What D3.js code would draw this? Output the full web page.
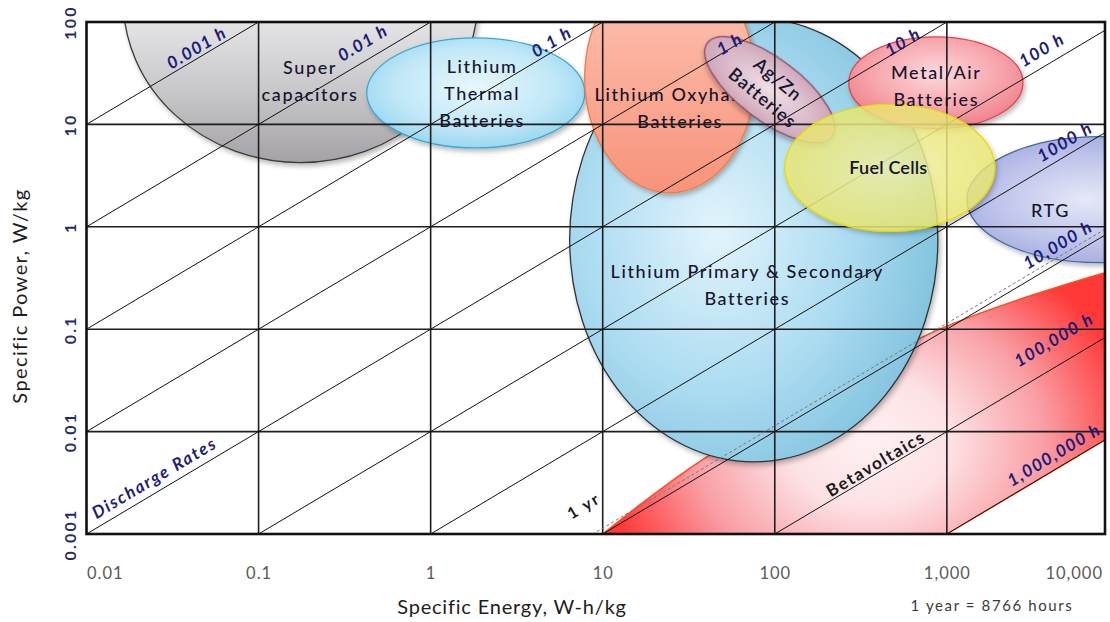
<!DOCTYPE html>
<html>
<head>
<meta charset="utf-8">
<script src="https://cdn.jsdelivr.net/npm/d3@7"></script>
<style>
  body { margin: 0; background: #fff; }
  text { font-family: Lato, "Open Sans", sans-serif; }
</style>
</head>
<body>
<svg id="chart" width="1110" height="622"></svg>
<script>
// ---- axes ----
const energyExtent = [0.01, 8300];          // W-h/kg shown on the frame
const powerExtent = [0.001, 100];           // W/kg
const energyTicks = [0.01, 0.1, 1, 10, 100, 1000];
const energyTickLabels = ["0.01", "0.1", "1", "10", "100", "1,000"];
const energyEndLabel = "10,000";
const powerTicks = [0.001, 0.01, 0.1, 1, 10, 100];
const powerTickLabels = ["0.001", "0.01", "0.1", "1", "10", "100"];

// ---- constant discharge-time lines (hours) ----
const dischargeHours = [0.001, 0.01, 0.1, 1, 10, 100, 1000, 10000, 100000, 1000000];
const dischargeLabels = ["0.001 h", "0.01 h", "0.1 h", "1 h", "10 h", "100 h", "1000 h", "10,000 h", "100,000 h", "1,000,000 h"];
const dischargeLabelE = [0.0436, 0.403, 5.05, 54.7, 555, 3565, 4853, 4418, 4188, 4188];
const dischargeLabelP = [56, 62.6, 64.1, 61.2, 64.1, 53.5, 6.76, 0.667, 0.0788, 0.00593];
const oneYearHours = 8766;

// ---- technology regions: centre, half-extent in decades, tilt ----
const techNames   = ["Supercapacitors", "Lithium Thermal", "Lithium Primary & Secondary", "Lithium Oxyhalide", "Ag/Zn", "Metal/Air", "RTG", "Fuel Cells"];
const techEnergy  = [0.175, 1.83, 75.5, 24.5, 93.5, 863, 7760, 466];
const techPower   = [165, 20.3, 0.746, 28.5, 21.8, 25.5, 1.84, 3.77];
const techSpanE   = [1.03, 0.634, 1.07, 0.494, 0.453, 0.506, 0.773, 0.61];
const techSpanP   = [1.59, 0.537, 2.168, 1.123, 0.303, 0.449, 0.615, 0.62];
const techTilt    = [0, 0, 0, 0, 37, 0, 0, 0];
const techLabelLines = [
  ["Super", "capacitors"],
  ["Lithium", "Thermal", "Batteries"],
  ["Lithium  Primary & Secondary", "Batteries"],
  ["Lithium Oxyhalide", "Batteries"],
  ["Ag/Zn", "Batteries"],
  ["Metal/Air", "Batteries"],
  ["RTG"],
  ["Fuel Cells"]
];
const techLabelE = [0.199, 1.99, 69.2, 28.2, 94.2, 868, 4000, 457];
const techLabelP = [26.7, 19.9, 0.271, 14.4, 22.3, 23.8, 1.43, 3.77];

// Betavoltaics band: upper boundary, bounded below by the 1,000,000 h line
const betaEnergy = [10, 40.3, 910, 8300];
const betaPower  = [0.001, 0.00567, 0.1, 0.356];
const betaLabelE = 386, betaLabelP = 0.00485;

// ---- drawing ----
const W = 1110, H = 622;
const svg = d3.select("#chart");
const x = d3.scaleLog().domain(energyExtent).range([86.5, 1105]);
const y = d3.scaleLog().domain(powerExtent).range([534, 22]);
const [x0, x1] = x.range();
const [y0, y1] = y.range();
const decX = x(10) - x(1);
const decY = y(1) - y(10);
const slopeDeg = Math.atan2(decY, decX) * 180 / Math.PI;

svg.append("rect").attr("width", W).attr("height", H).attr("fill", "#fff");

const defs = svg.append("defs");
defs.append("clipPath").attr("id", "plotClip")
  .append("rect").attr("x", x0).attr("y", y1).attr("width", x1 - x0).attr("height", y0 - y1);

const sh = defs.append("filter").attr("id", "shadow")
  .attr("x", "-20%").attr("y", "-20%").attr("width", "140%").attr("height", "140%");
sh.append("feDropShadow").attr("dx", 2).attr("dy", 3).attr("stdDeviation", 2.5)
  .attr("flood-color", "#000").attr("flood-opacity", 0.28);

function radial(id, stops, cx = "45%", cy = "45%", r = "60%") {
  const g = defs.append("radialGradient").attr("id", id).attr("cx", cx).attr("cy", cy).attr("r", r);
  stops.forEach(([o, c]) => g.append("stop").attr("offset", o).attr("stop-color", c));
}
// supercapacitor shading runs over the visible part of the ellipse only
const supBottom = y(techPower[0]) + techSpanP[0] * decY;
const gs = defs.append("linearGradient").attr("id", "gSuper").attr("gradientUnits", "userSpaceOnUse")
  .attr("x1", 0).attr("x2", 0).attr("y1", y1).attr("y2", supBottom);
[[0, "#e4e3e5"], [0.5, "#c7c6c9"], [1, "#a4a2a6"]]
  .forEach(([o, c]) => gs.append("stop").attr("offset", o).attr("stop-color", c));
const go = defs.append("linearGradient").attr("id", "gOxy").attr("x1", 0).attr("y1", 0).attr("x2", 0).attr("y2", 1);
[[0, "#fdc6b7"], [1, "#f8937a"]].forEach(([o, c]) => go.append("stop").attr("offset", o).attr("stop-color", c));

radial("gThermal", [[0, "#e8f7fd"], [0.6, "#c2e8f8"], [1, "#91d3f0"]], "50%", "45%", "60%");
radial("gLiPrim", [[0, "#e2f4fc"], [0.55, "#acdcf1"], [1, "#7cbfdc"]], "40%", "48%", "65%");
radial("gAgZn", [[0, "#f0dfe7"], [1, "#c89bb0"]], "50%", "50%", "60%");
radial("gMetal", [[0, "#fdd9dc"], [0.6, "#f7a7ae"], [1, "#f0808a"]], "50%", "40%", "60%");
radial("gRTG", [[0, "#e6e8f8"], [0.6, "#bcc2ea"], [1, "#9ba3db"]], "45%", "50%", "60%");
radial("gFuel", [[0, "#f7f5ac"], [1, "#ebe866"]], "50%", "50%", "60%");

const techStyle = [
  { fill: "url(#gSuper)",   stroke: "#3a3a3a" },
  { fill: "url(#gThermal)", stroke: "#3aa8cf" },
  { fill: "url(#gLiPrim)",  stroke: "#2e3338" },
  { fill: "url(#gOxy)",     stroke: "#ee7a45" },
  { fill: "url(#gAgZn)",    stroke: "#8a4565" },
  { fill: "url(#gMetal)",   stroke: "#e2414f" },
  { fill: "url(#gRTG)",     stroke: "#3c66a8" },
  { fill: "url(#gFuel)",    stroke: "#e6dc00", opacity: 0.8 }
];

// Betavoltaic gradient: saturated at the ends, pale in the middle
const bcx = x(350), bcy = y(0.008);
const bg = defs.append("radialGradient").attr("id", "gBeta").attr("gradientUnits", "userSpaceOnUse")
  .attr("cx", bcx).attr("cy", bcy).attr("r", 270)
  .attr("gradientTransform", `translate(${bcx},${bcy}) scale(1,0.8) translate(${-bcx},${-bcy})`);
[[0, "#fff0f2"], [0.3, "#fde2e5"], [0.65, "#f99fa5"], [1, "#ff3838"]]
  .forEach(([o, c]) => bg.append("stop").attr("offset", o).attr("stop-color", c));

const plotG = svg.append("g").attr("clip-path", "url(#plotClip)");

function drawRegion(i, parent) {
  const s = techStyle[i];
  const cx = x(techEnergy[i]), cy = y(techPower[i]);
  parent.append("ellipse")
    .attr("cx", cx).attr("cy", cy)
    .attr("rx", techSpanE[i] * decX).attr("ry", techSpanP[i] * decY)
    .attr("transform", `rotate(${techTilt[i]},${cx},${cy})`)
    .attr("fill", s.fill).attr("fill-opacity", s.opacity || 1)
    .attr("stroke", s.stroke).attr("stroke-width", 1.3)
    .attr("filter", "url(#shadow)");
}
const lineH = 27;
function drawLabel(i, parent, opts = {}) {
  const cx = x(techLabelE[i]), cy = y(techLabelP[i]);
  const lines = techLabelLines[i];
  const gap = opts.gap || lineH;
  const t = parent.append("text")
    .attr("transform", `translate(${cx},${cy}) rotate(${techTilt[i] ? 40 : 0})`)
    .attr("text-anchor", "middle")
    .attr("font-size", opts.size || 18)
    .attr("font-weight", opts.weight || 500)
    .attr("letter-spacing", opts.ls !== undefined ? opts.ls : 1.6)
    .attr("fill", "#15152e");
  lines.forEach((ln, k) => {
    t.append("tspan").attr("x", 0)
      .attr("y", (k - (lines.length - 1) / 2) * gap)
      .attr("dy", "0.35em").text(ln);
  });
}

// regions beneath the grid
drawRegion(0, plotG);
drawRegion(1, plotG);

const betaTop = d3.line().x(d => x(d[0])).y(d => y(d[1])).curve(d3.curveCatmullRom.alpha(0.5));
const betaPts = betaEnergy.map((e, i) => [e, betaPower[i]]);
const eMax = energyExtent[1];
const betaPath = betaTop(betaPts) +
  `L${x(eMax)},${y(eMax / 1e6)}L${x(1000)},${y(0.001)}Z`;
plotG.append("path").attr("d", betaPath).attr("fill", "url(#gBeta)")
  .attr("stroke", "none");
plotG.append("path").attr("d", betaTop(betaPts)).attr("fill", "none")
  .attr("stroke", "#ff4a1a").attr("stroke-width", 1.4);
plotG.append("path").attr("d", `M${x(1000)},${y(0.001)}L${x(eMax)},${y(eMax / 1e6)}`)
  .attr("fill", "none").attr("stroke", "#ff4a1a").attr("stroke-width", 1.4);

drawRegion(2, plotG);
drawRegion(3, plotG);
drawLabel(3, plotG);
drawRegion(4, plotG);
drawRegion(5, plotG);
drawRegion(6, plotG);

// grid
const gridG = plotG.append("g");
gridG.selectAll("line.v").data(energyTicks.slice(1)).join("line")
  .attr("x1", d => x(d)).attr("x2", d => x(d)).attr("y1", y1).attr("y2", y0)
  .attr("stroke", "#1e1e1e").attr("stroke-width", 1.6);
gridG.selectAll("line.h").data(powerTicks.slice(1)).join("line")
  .attr("x1", x0).attr("x2", x1).attr("y1", d => y(d)).attr("y2", d => y(d))
  .attr("stroke", "#1e1e1e").attr("stroke-width", 1.6);

// discharge-time diagonals: P = E / t
const eLo = energyExtent[0], eHi = energyExtent[1];
gridG.selectAll("line.d").data(dischargeHours).join("line")
  .attr("x1", x(eLo)).attr("y1", t => y(eLo / t))
  .attr("x2", x(eHi)).attr("y2", t => y(eHi / t))
  .attr("stroke", "#111").attr("stroke-width", 1);
gridG.append("line")
  .attr("x1", x(eLo)).attr("y1", y(eLo / oneYearHours))
  .attr("x2", x(eHi)).attr("y2", y(eHi / oneYearHours))
  .attr("stroke", "#777").attr("stroke-width", 1).attr("stroke-dasharray", "3,2.5");

// translucent fuel-cell region over the grid
drawRegion(7, plotG);

// region labels
[0, 1, 2, 4, 5, 6, 7].forEach(i => {
  if (i === 4) drawLabel(i, svg, { gap: 24, weight: 600, ls: 1.2 });
  else if (i === 7) drawLabel(i, svg, { ls: 0.2, weight: 600 });
  else drawLabel(i, svg);
});

// frame
svg.append("rect").attr("x", x0).attr("y", y1).attr("width", x1 - x0).attr("height", y0 - y1)
  .attr("fill", "none").attr("stroke", "#111").attr("stroke-width", 2.6);

// diagonal labels
svg.selectAll("text.dl").data(dischargeLabels).join("text")
  .attr("transform", (d, i) => `translate(${x(dischargeLabelE[i])},${y(dischargeLabelP[i])}) rotate(${-slopeDeg})`)
  .attr("text-anchor", "middle").attr("dy", "0.35em")
  .attr("font-size", 17).attr("font-weight", 700).attr("font-style", "italic")
  .attr("letter-spacing", 1.4)
  .attr("fill", "#1c1c78").text(d => d);

svg.append("text")
  .attr("transform", `translate(${x(0.0248)},${y(0.00354)}) rotate(${-slopeDeg})`)
  .attr("text-anchor", "middle").attr("dy", "0.35em")
  .attr("font-size", 17).attr("font-weight", 700).attr("font-style", "italic")
  .attr("letter-spacing", 1.8)
  .attr("fill", "#1c1c78").text("Discharge Rates");

svg.append("text")
  .attr("transform", `translate(${x(7.76)},${y(0.00188)}) rotate(${-slopeDeg})`)
  .attr("text-anchor", "middle").attr("dy", "0.35em")
  .attr("font-size", 16).attr("font-weight", 700).attr("letter-spacing", 2)
  .attr("fill", "#1a1a1a").text("1 yr");

svg.append("text")
  .attr("transform", `translate(${x(betaLabelE)},${y(betaLabelP)}) rotate(${-slopeDeg})`)
  .attr("text-anchor", "middle").attr("dy", "0.35em")
  .attr("font-size", 17).attr("font-weight", 700).attr("letter-spacing", 1.6)
  .attr("fill", "#1a1a1a").text("Betavoltaics");

// axes
const tickFont = { size: 16.5, fill: "#5a5a5a", ls: 1 };
const xAxis = d3.axisBottom(x).tickValues(energyTicks)
  .tickFormat((d, i) => energyTickLabels[i]).tickSize(0).tickPadding(0);
const xa = svg.append("g").attr("transform", `translate(0,${y0 + 45})`).call(xAxis);
xa.select(".domain").remove();
xa.selectAll("text").attr("font-size", tickFont.size).attr("fill", tickFont.fill)
  .attr("font-family", "Lato, sans-serif").attr("dy", 0).attr("letter-spacing", tickFont.ls);
// first label starts at the frame edge
xa.selectAll("text").filter((d, i) => i === 0).attr("text-anchor", "start");
svg.append("text").attr("x", x1 - 2).attr("y", y0 + 45).attr("text-anchor", "end")
  .attr("font-size", tickFont.size).attr("fill", tickFont.fill).attr("letter-spacing", tickFont.ls)
  .text(energyEndLabel);

const yAxis = d3.axisLeft(y).tickValues(powerTicks)
  .tickFormat((d, i) => powerTickLabels[i]).tickSize(0).tickPadding(0);
const ya = svg.append("g").attr("transform", `translate(${x0 - 17},0)`).call(yAxis);
ya.select(".domain").remove();
ya.selectAll("text")
  .attr("x", 0).attr("dy", 0)
  .attr("transform", "rotate(-90)")
  .attr("text-anchor", "middle")
  .attr("dominant-baseline", "central")
  .attr("font-size", 16).attr("font-weight", 700).attr("fill", "#1f2c6c")
  .attr("letter-spacing", 2.2)
  .attr("font-family", "Lato, sans-serif");

svg.append("text").attr("x", 512).attr("y", 614).attr("text-anchor", "middle")
  .attr("font-size", 20).attr("fill", "#1d1d1d").attr("letter-spacing", 0.8)
  .text("Specific Energy, W-h/kg");
svg.append("text").attr("transform", `translate(27,${(y0 + y1) / 2 + 18}) rotate(-90)`)
  .attr("text-anchor", "middle").attr("font-size", 20).attr("fill", "#1d1d1d")
  .attr("letter-spacing", 1.4).text("Specific Power, W/kg");
svg.append("text").attr("x", 992).attr("y", 611).attr("text-anchor", "middle")
  .attr("font-size", 15).attr("fill", "#3a3a3a").attr("letter-spacing", 1.6)
  .text("1 year = 8766 hours");
</script>
</body>
</html>
